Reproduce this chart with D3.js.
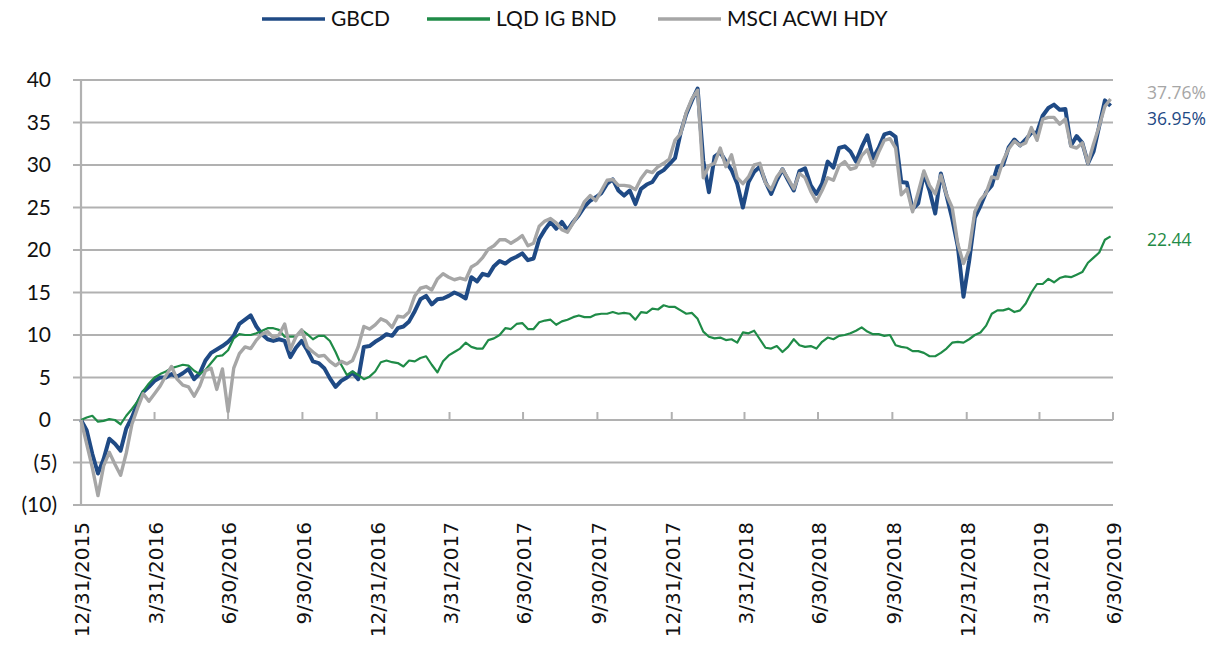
<!DOCTYPE html>
<html>
<head>
<meta charset="utf-8">
<script src="https://cdn.jsdelivr.net/npm/d3@7/dist/d3.min.js"></script>
<style>
body { margin: 0; background: #fff; }
svg { display: block; }
</style>
</head>
<body>
<script>
// series (weekly from 12/31/2015, % return)
var seriesNames = ["GBCD", "LQD IG BND", "MSCI ACWI HDY"];
var startDate = "12/31/2015";
var quarterLabels = ["12/31/2015", "3/31/2016", "6/30/2016", "9/30/2016", "12/31/2016", "3/31/2017", "6/30/2017",
    "9/30/2017", "12/31/2017", "3/31/2018", "6/30/2018", "9/30/2018", "12/31/2018", "3/31/2019", "6/30/2019"];
var yTickValues = [40, 35, 30, 25, 20, 15, 10, 5, 0, -5, -10];
var endLabels = ["37.76%", "36.95%", "22.44"];

var gbcd = [0,-1.2,-4.0,-6.3,-4.6,-2.2,-2.8,-3.6,-1.0,0.3,
    2.0,3.3,3.9,4.6,5.0,5.0,5.4,5.1,5.5,6.0,
    4.8,5.5,7.0,7.9,8.3,8.7,9.2,9.9,11.3,11.8,
    12.3,11.0,10.1,9.5,9.3,9.5,9.3,7.4,8.5,9.3,
    8.2,6.9,6.7,6.1,4.9,3.9,4.6,5.0,5.6,4.8,
    8.6,8.7,9.2,9.6,10.1,9.9,10.8,11.0,11.6,12.8,
    14.2,14.6,13.6,14.2,14.3,14.6,15.0,14.7,14.3,16.8,
    16.3,17.2,17.0,18.1,18.7,18.4,18.9,19.2,19.6,18.8,
    19.0,21.3,22.4,23.3,22.5,23.3,22.3,23.3,24.1,25.1,
    25.8,26.2,26.7,27.8,28.3,27.0,26.4,27.0,25.4,27.2,
    27.7,28.0,29.0,29.4,30.1,30.8,33.8,36.0,37.6,39.0,
    30.5,26.8,31.0,31.5,30.4,29.4,27.8,25.0,28.0,29.2,
    29.8,28.0,26.6,28.2,29.5,28.2,27.0,29.3,29.6,27.6,
    26.6,27.8,30.4,29.7,32.0,32.2,31.6,30.4,32.1,33.5,
    30.8,32.0,33.6,33.8,33.3,28.0,27.9,24.8,25.5,29.0,
    27.0,24.3,29.0,26.4,23.7,20.4,14.5,18.7,23.8,25.2,
    26.8,27.6,29.8,30.0,32.1,33.0,32.3,33.0,33.8,33.8,
    35.8,36.7,37.1,36.5,36.6,32.3,33.4,32.6,30.2,31.6,
    34.6,37.6,36.95];

var lqd = [0,0.3,0.5,-0.2,-0.1,0.1,0.0,-0.5,0.5,1.3,
    2.2,3.4,4.3,5.0,5.4,5.7,6.1,6.3,6.5,6.4,
    5.8,5.4,5.9,6.7,7.5,7.6,8.2,9.6,10.1,10.0,
    10.0,10.2,10.5,10.8,10.8,10.6,9.8,9.8,9.8,10.6,
    10.1,9.5,9.9,9.9,9.3,8.0,6.5,5.3,5.7,5.3,
    4.8,5.1,5.7,6.8,7.0,6.8,6.7,6.3,7.0,6.9,
    7.3,7.5,6.5,5.6,6.9,7.6,8.0,8.4,9.1,8.6,
    8.4,8.4,9.4,9.6,10.0,10.8,10.7,11.3,11.4,10.7,
    10.7,11.5,11.7,11.8,11.2,11.6,11.8,12.1,12.3,12.1,
    12.1,12.4,12.5,12.5,12.7,12.5,12.6,12.5,11.8,12.7,
    12.6,13.1,13.0,13.5,13.3,13.3,12.9,12.5,12.6,11.9,
    10.4,9.8,9.6,9.7,9.4,9.5,9.1,10.3,10.2,10.5,
    9.5,8.5,8.4,8.7,8.0,8.6,9.5,8.8,8.6,8.7,
    8.4,9.2,9.7,9.5,9.9,10.0,10.2,10.5,10.9,10.4,
    10.1,10.1,9.9,10.0,8.8,8.6,8.5,8.1,8.1,7.9,
    7.5,7.5,7.9,8.4,9.1,9.2,9.1,9.5,10.0,10.3,
    11.1,12.5,12.9,12.9,13.1,12.7,12.9,13.7,15.0,16.0,
    16.0,16.6,16.2,16.7,16.9,16.8,17.1,17.4,18.5,19.1,
    19.7,21.2,21.6];

var msci = [0,-2.8,-5.6,-8.9,-5.4,-3.8,-5.2,-6.5,-3.9,-0.5,
    1.4,3.1,2.2,3.1,4.0,5.2,6.3,4.8,4.1,3.9,
    2.8,4.0,5.8,6.1,3.6,6.0,1.0,6.1,7.8,8.6,
    8.4,9.4,10.1,10.4,9.7,10.0,11.3,8.3,9.8,10.6,
    8.6,8.0,7.5,7.6,6.9,6.4,6.9,6.6,7.0,8.6,
    11.0,10.7,11.2,11.9,11.6,10.9,12.2,12.1,12.7,14.6,
    15.5,15.7,15.3,16.6,17.2,16.8,16.5,16.7,16.5,18.0,
    18.4,19.1,20.1,20.5,21.2,21.2,20.8,21.2,21.7,20.5,
    20.8,22.8,23.4,23.7,23.2,22.4,22.1,23.2,24.3,25.7,
    26.4,25.8,27.0,28.2,28.3,27.6,27.6,27.5,27.1,28.4,
    29.3,29.1,29.8,30.2,30.7,32.9,33.7,36.2,37.8,38.8,
    28.5,29.9,30.2,32.0,29.8,31.2,28.5,27.8,28.6,30.0,
    30.2,27.9,27.1,28.6,29.5,28.4,27.2,29.0,28.5,26.9,
    25.7,27.0,28.5,28.2,29.9,30.4,29.5,29.7,31.1,31.8,
    29.9,31.5,32.9,33.1,32.0,26.5,27.2,24.5,26.8,29.3,
    27.6,26.6,28.8,26.5,25.0,20.7,18.4,20.0,24.5,25.9,
    26.7,28.6,28.4,30.5,31.9,32.8,32.3,32.6,34.4,32.9,
    35.4,35.6,35.6,34.8,35.4,32.2,32.0,32.6,30.2,32.5,
    34.6,36.9,37.76];

var blue = "#1f4a85", green = "#1f8b47", grey = "#a6a6a6", gridGrey = "#b1b1b1";

var parseDate = d3.utcParse("%m/%d/%Y");
var start = parseDate(startDate);
var dates = gbcd.map(function(d, i) { return d3.utcDay.offset(start, 7 * i); });

var width = 1213, height = 646;
var svg = d3.select("body").append("svg").attr("width", width).attr("height", height);

var x = d3.scaleUtc().domain([parseDate(quarterLabels[0]), parseDate(quarterLabels[quarterLabels.length - 1])]).range([81, 1113]);
var y = d3.scaleLinear().domain([-10, 40]).range([505, 80]);

//Gridlines
svg.append("g").selectAll("line").data(yTickValues).enter().append("line")
    .attr("x1", 73).attr("x2", x.range()[1])
    .attr("y1", function(d) { return y(d); }).attr("y2", function(d) { return y(d); })
    .attr("stroke", gridGrey).attr("stroke-width", 2.2);

//Value axis line
svg.append("line").attr("x1", x.range()[0]).attr("x2", x.range()[0])
    .attr("y1", y(40)).attr("y2", y(-10))
    .attr("stroke", gridGrey).attr("stroke-width", 2.2);

//Category ticks sit on the zero line
svg.append("g").selectAll("line").data(quarterLabels.slice(1)).enter().append("line")
    .attr("x1", function(d) { return x(parseDate(d)); }).attr("x2", function(d) { return x(parseDate(d)); })
    .attr("y1", y(0) - 8).attr("y2", y(0))
    .attr("stroke", gridGrey).attr("stroke-width", 2);

//Y labels, negatives in brackets
svg.append("g").selectAll("text").data(yTickValues).enter().append("text")
    .attr("x", function(d) { return d < 0 ? 57 : 51; })
    .attr("y", function(d) { return y(d); })
    .attr("dy", "0.35em")
    .attr("text-anchor", "end")
    .attr("font-family", "Lato, 'Open Sans', sans-serif")
    .attr("font-size", 21)
    .attr("fill", "#111")
    .text(function(d) { return d < 0 ? "(" + Math.abs(d) + ")" : d; });

//X labels, rotated
svg.append("g").selectAll("text").data(quarterLabels).enter().append("text")
    .attr("transform", function(d) { return "translate(" + (x(parseDate(d)) + 1) + ",522)rotate(-90)"; })
    .attr("dy", "0.36em")
    .attr("text-anchor", "end")
    .attr("font-family", "'DejaVu Sans', Verdana, sans-serif")
    .attr("font-size", 20)
    .attr("fill", "#111")
    .text(function(d) { return d; });

//Lines
var series = [
    { name: seriesNames[0], values: gbcd, colour: blue, w: 4 },
    { name: seriesNames[1], values: lqd, colour: green, w: 2.2 },
    { name: seriesNames[2], values: msci, colour: grey, w: 3.4 }
];
var line = d3.line()
    .x(function(d, i) { return x(dates[i]); })
    .y(function(d) { return y(d); });

svg.append("g").selectAll("path").data(series).enter().append("path")
    .attr("d", function(s) { return line(s.values); })
    .attr("fill", "none")
    .attr("stroke", function(s) { return s.colour; })
    .attr("stroke-width", function(s) { return s.w; })
    .attr("stroke-linejoin", "round");

//Legend
var legendX = [262, 427, 658];
var legend = svg.append("g").selectAll("g").data(series).enter().append("g")
    .attr("transform", function(s, i) { return "translate(" + legendX[i] + ",19)"; });
legend.append("line").attr("x1", 0).attr("x2", 63).attr("y1", 0).attr("y2", 0)
    .attr("stroke", function(s) { return s.colour; }).attr("stroke-width", 3.5);
legend.append("text").attr("x", 69).attr("dy", "0.35em")
    .attr("font-family", "Lato, 'Open Sans', sans-serif")
    .attr("font-size", 21)
    .attr("fill", "#111")
    .text(function(s) { return s.name; });

//End labels
var endColours = [grey, blue, green];
var endY = [93, 119, 240];
svg.append("g").selectAll("text").data(endLabels).enter().append("text")
    .attr("x", 1147)
    .attr("y", function(d, i) { return endY[i]; })
    .attr("dy", "0.35em")
    .attr("font-family", "'Open Sans', sans-serif")
    .attr("font-size", 17.5)
    .attr("fill", function(d, i) { return endColours[i]; })
    .text(function(d) { return d; });
</script>
</body>
</html>
